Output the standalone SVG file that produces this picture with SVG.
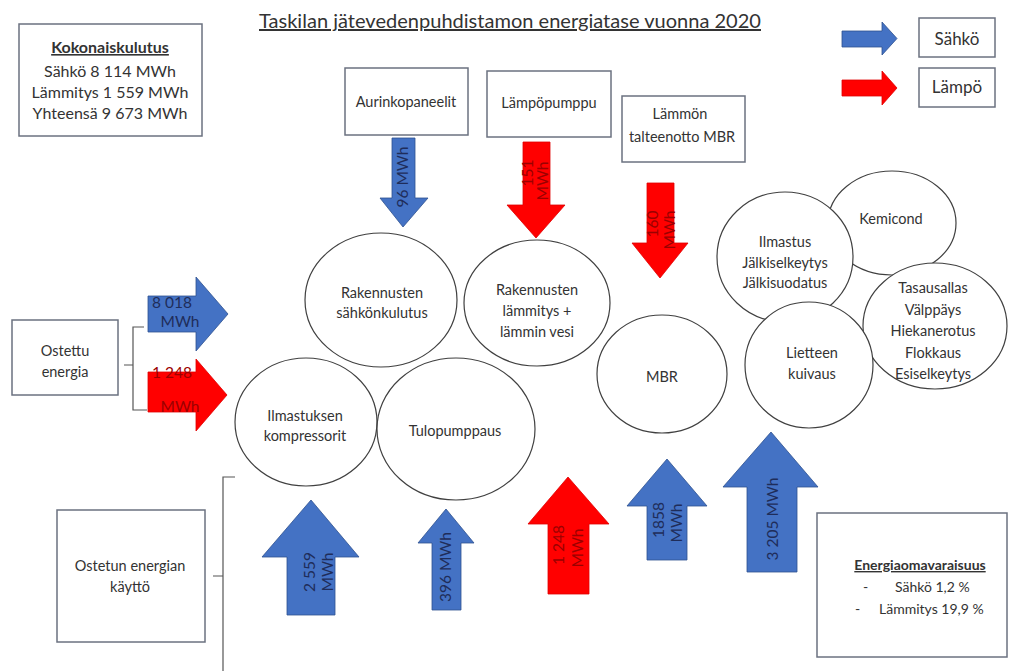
<svg xmlns="http://www.w3.org/2000/svg" width="1010" height="671" viewBox="0 0 1010 671">
<style>
text{font-family:Lato,"Open Sans","Liberation Sans",sans-serif;fill:#333;}
.t{font-size:14.5px;text-anchor:middle;}
.k{font-size:16px;text-anchor:middle;}
.box{fill:#fff;stroke:#6b7280;stroke-width:1.5;}
.ell{fill:#fff;stroke:#404040;stroke-width:1.2;}
.blue{fill:#4472c4;stroke:#2f528f;stroke-width:0.8;}
.red{fill:#ff0000;stroke:#e00000;stroke-width:0.8;}
.lb{font-size:15.5px;text-anchor:middle;fill:#1f2d5a;}
.lr{font-size:15.5px;text-anchor:middle;fill:#9b0000;}
.br{fill:none;stroke:#555;stroke-width:1.2;}
</style>
<rect width="1010" height="671" fill="#fff"/>

<text x="510" y="28" font-size="20" text-anchor="middle" fill="#222" text-decoration="underline" textLength="502" lengthAdjust="spacingAndGlyphs">Taskilan jätevedenpuhdistamon energiatase vuonna 2020</text>

<g id="kokonaiskulutus">
<rect class="box" x="19" y="24" width="183" height="112"/>
<text class="k" x="110" y="53" font-weight="bold" text-decoration="underline" font-size="15">Kokonaiskulutus</text>
<text class="k" x="110" y="77">Sähkö 8 114 MWh</text>
<text class="k" x="110" y="98">Lämmitys 1 559 MWh</text>
<text class="k" x="110" y="119">Yhteensä 9 673 MWh</text>
</g>

<g id="legend-sahko">
<polygon class="blue" points="842,31 882,31 882,22 897,38.5 882,55 882,47 842,47"/>
<rect class="box" x="919" y="18" width="76" height="39"/>
<text x="957" y="45" font-size="17" text-anchor="middle">Sähkö</text>
</g>
<g id="legend-lampo">
<polygon class="red" points="842,80 882,80 882,71 897,88 882,105 882,96 842,96"/>
<rect class="box" x="919" y="68" width="76" height="39"/>
<text x="957" y="93" font-size="17" text-anchor="middle">Lämpö</text>
</g>

<g id="aurinkopaneelit">
<rect class="box" x="345" y="68" width="123" height="67"/>
<text class="t" x="406" y="107">Aurinkopaneelit</text>
</g>
<g id="lampopumppu">
<rect class="box" x="487" y="71" width="124" height="66"/>
<text class="t" x="549" y="108">Lämpöpumppu</text>
</g>
<g id="lammon-talteenotto">
<rect class="box" x="622" y="96" width="123" height="66"/>
<text class="t" x="680" y="119">Lämmön</text>
<text class="t" x="682" y="142">talteenotto MBR</text>
</g>

<g id="ostettu-energia">
<rect class="box" x="12" y="320" width="106" height="75"/>
<text class="t" x="65" y="356">Ostettu</text>
<text class="t" x="65" y="377">energia</text>
<path class="br" d="M144,327 L133,327 L133,410 L147,410 M124,365 L133,365"/>
</g>

<g id="ostetun-energian-kaytto">
<rect class="box" x="57" y="510" width="148" height="132"/>
<text class="t" x="130" y="571">Ostetun energian</text>
<text class="t" x="130" y="592">käyttö</text>
<path class="br" d="M235,477 L223,477 L223,671 M213,576 L223,576"/>
</g>

<g id="energiaomavaraisuus">
<rect class="box" x="817" y="513" width="190" height="144"/>
<text x="920" y="570" font-size="14" font-weight="bold" text-anchor="middle" text-decoration="underline">Energiaomavaraisuus</text>
<text x="863" y="592" font-size="14">-</text>
<text x="895" y="592" font-size="14">Sähkö 1,2 %</text>
<text x="855" y="614" font-size="14">-</text>
<text x="879" y="614" font-size="14">Lämmitys 19,9 %</text>
</g>

<g id="rakennusten-sahkonkulutus">
<ellipse class="ell" cx="381" cy="300" rx="76" ry="67"/>
<text class="t" x="382" y="298">Rakennusten</text>
<text class="t" x="382" y="318">sähkönkulutus</text>
</g>
<g id="rakennusten-lammitys">
<ellipse class="ell" cx="537" cy="303" rx="73" ry="63"/>
<text class="t" x="537" y="295">Rakennusten</text>
<text class="t" x="537" y="316">lämmitys +</text>
<text class="t" x="537" y="337">lämmin vesi</text>
</g>
<g id="ilmastuksen-kompressorit">
<ellipse class="ell" cx="306" cy="422" rx="71" ry="64"/>
<text class="t" x="305" y="421">Ilmastuksen</text>
<text class="t" x="305" y="441">kompressorit</text>
</g>
<g id="tulopumppaus">
<ellipse class="ell" cx="456" cy="429" rx="79" ry="71"/>
<text class="t" x="455" y="436">Tulopumppaus</text>
</g>
<g id="mbr">
<ellipse class="ell" cx="662" cy="374" rx="65" ry="59"/>
<text class="t" x="662" y="382">MBR</text>
</g>
<g id="kemicond">
<ellipse class="ell" cx="892" cy="223" rx="64" ry="52"/>
<text class="t" x="891" y="224">Kemicond</text>
</g>
<g id="ilmastus">
<ellipse class="ell" cx="785" cy="257" rx="68" ry="65"/>
<text class="t" x="785" y="247">Ilmastus</text>
<text class="t" x="785" y="267.5">Jälkiselkeytys</text>
<text class="t" x="785" y="288">Jälkisuodatus</text>
</g>
<g id="tasausallas">
<ellipse class="ell" cx="935" cy="326" rx="72" ry="63"/>
<text class="t" x="933" y="293">Tasausallas</text>
<text class="t" x="933" y="314.5">Välppäys</text>
<text class="t" x="933" y="336">Hiekanerotus</text>
<text class="t" x="933" y="357.5">Flokkaus</text>
<text class="t" x="933" y="379">Esiselkeytys</text>
</g>
<g id="lietteen-kuivaus">
<ellipse class="ell" cx="809" cy="365" rx="64" ry="63"/>
<text class="t" x="812" y="358">Lietteen</text>
<text class="t" x="812" y="379">kuivaus</text>
</g>

<g id="connectors">
<polygon class="blue" points="148,296 196,296 196,277 228,314 196,351 196,332 148,332"/>
<text class="lb" x="172" y="308" font-size="16">8 018</text>
<text class="lb" x="180" y="327" font-size="16">MWh</text>

<polygon class="red" points="148,372 196,372 196,359 227,395 196,431 196,412 148,412"/>
<text class="lr" x="172" y="378" font-size="16">1 248</text>
<text class="lr" x="180" y="412" font-size="16">MWh</text>

<polygon class="blue" points="392,138 415,138 415,198 428,198 403,227 380,198 392,198"/>
<text class="lb" transform="translate(408,177) rotate(-90)" font-size="14.5">96 MWh</text>

<polygon class="red" points="523,142 550,142 550,205 565,205 536,238 507,205 523,205"/>
<text class="lr" transform="translate(533,173) rotate(-90)" font-size="14.5">151</text>
<text class="lr" transform="translate(548,181) rotate(-90)" font-size="14.5">MWh</text>

<polygon class="red" points="647,183 674,183 674,243 688,243 660,278 632,243 647,243"/>
<text class="lr" transform="translate(658,224) rotate(-90)" font-size="14.5">160</text>
<text class="lr" transform="translate(675,230) rotate(-90)" font-size="14.5">MWh</text>

<polygon class="blue" points="287,615 287,557 262,557 311,500 359,557 335,557 335,615"/>
<text class="lb" transform="translate(315,572) rotate(-90)">2 559</text>
<text class="lb" transform="translate(333,572) rotate(-90)">MWh</text>

<polygon class="blue" points="432,610 432,543 418,543 446,509 474,543 461,543 461,610"/>
<text class="lb" transform="translate(451,567) rotate(-90)">396 MWh</text>

<polygon class="red" points="548,594 548,524 528,524 568,477 609,524 589,524 589,594"/>
<text class="lr" transform="translate(564,545) rotate(-90)">1 248</text>
<text class="lr" transform="translate(583,548) rotate(-90)">MWh</text>

<polygon class="blue" points="647,560 647,506 627,506 667,459 707,506 687,506 687,560"/>
<text class="lb" transform="translate(664,520) rotate(-90)">1858</text>
<text class="lb" transform="translate(682,523) rotate(-90)">MWh</text>

<polygon class="blue" points="747,572 747,487 723,487 771,432 818,487 797,487 797,572"/>
<text class="lb" transform="translate(778,519) rotate(-90)">3 205 MWh</text>
</g>
</svg>
